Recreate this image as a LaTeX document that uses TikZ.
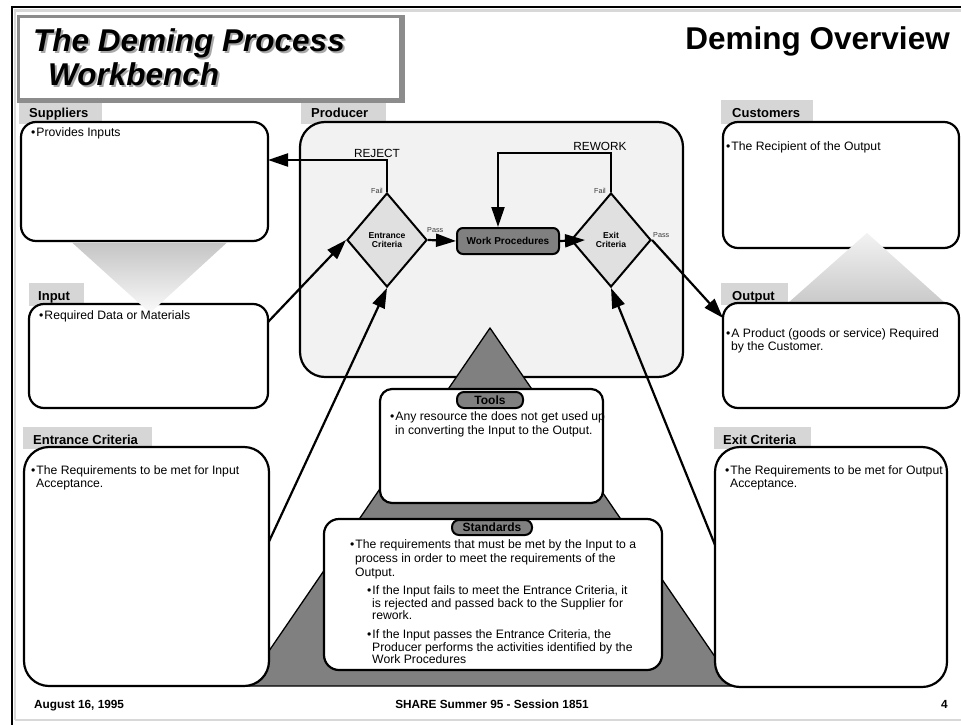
\documentclass[tikz,border=0pt]{standalone}
\usepackage{fontspec}
\setmainfont{Liberation Sans}
\usetikzlibrary{arrows.meta,shapes.geometric}

\definecolor{tabgray}{HTML}{D6D6D6}
\definecolor{prodgray}{HTML}{F2F2F2}
\definecolor{diagray}{HTML}{E0E0E0}
\definecolor{darkfill}{HTML}{808080}
\definecolor{framegray}{HTML}{8C8C8C}
\definecolor{rimgray}{HTML}{D8D8D8}
\definecolor{shadowgray}{HTML}{A8A8A8}
\definecolor{labelgray}{HTML}{383838}

\newcommand{\fsz}[1]{\fontsize{#1}{#1}\selectfont}
\newcommand{\bul}{\textbullet\hspace{1pt}}
% heading text with a soft grey drop shadow behind it
\newcommand{\shadowed}[1]{\makebox[0pt][l]{\hspace{2pt}\raisebox{-2pt}{\color{shadowgray}#1}}#1}

\begin{document}
\begin{tikzpicture}[x=1pt,y=-1pt,
  box/.style={draw=black, line width=2.2pt, fill=white, rounded corners=#1,
    inner sep=0pt, outer sep=0pt},
  box/.default=15pt,
  tab/.style={fill=tabgray},
  tablabel/.style={anchor=base west, inner sep=0pt, font=\fsz{13}\bfseries},
  txt/.style={anchor=base west, inner sep=0pt, font=\fsz{12.2}},
  pill/.style={draw=black, line width=2pt, fill=darkfill, rounded corners=7pt,
    inner sep=0pt, font=\fsz{12}\bfseries},
  crit/.style={diamond, draw=black, line width=2pt, fill=diagray, inner sep=0pt,
    minimum width=80pt, minimum height=94pt, align=center,
    font=\fontsize{8.6}{8.2}\selectfont\bfseries},
  small/.style={inner sep=0pt, font=\fsz{7.2}, text=labelgray},
  caption/.style={inner sep=0pt, font=\fsz{11.8}, anchor=base},
  flow/.style={line width=2.2pt, -{Triangle[length=20pt,width=13pt]}},
  foot/.style={inner sep=0pt, font=\fsz{11.8}\bfseries},
  heading/.style={anchor=base west, inner sep=0pt, font=\fsz{31.5}\bfseries\itshape}
]
\useasboundingbox (0,0) rectangle (961,725);
\fill[white] (0,0) rectangle (961,725);

% slide frame
\draw[rimgray, line width=2.5pt] (15,720) -- (15,10.5) -- (961,10.5);
\draw[rimgray, line width=2pt] (15,720) -- (961,720);
\draw[black, line width=2pt] (12,725) -- (12,7) -- (961,7);

% title panel
\fill[framegray] (17,15) rectangle (405,103);
\fill[white] (20,18) rectangle (399,98);
\node[heading] (ttla) at (33,52) {\shadowed{The Deming Process}};
\node[heading] (ttlb) at (48,85) {\shadowed{Workbench}};
\node[anchor=base east, inner sep=0pt, font=\fsz{31.5}\bfseries] (ovw) at (950,50) {Deming Overview};

% section tabs
\fill[tab] (19,103) rectangle (102,124);
\fill[tab] (301,103) rectangle (386,124);
\fill[tab] (29,283) rectangle (84,306);
\fill[tab] (23,427) rectangle (152,449);
\fill[tab] (721,100) rectangle (813,124);
\fill[tab] (721,283) rectangle (788,305);
\fill[tab] (714,427) rectangle (811,449);
\node[tablabel] (lsup) at (29,117) {Suppliers};
\node[tablabel] (lprod) at (311,117) {Producer};
\node[tablabel] (linp) at (38,300) {Input};
\node[tablabel] (lent) at (33,444) {Entrance Criteria};
\node[tablabel] (lcus) at (732,117) {Customers};
\node[tablabel] (lout) at (732,300) {Output};
\node[tablabel] (lexi) at (723,444) {Exit Criteria};

% producer area
\node[box=25pt, fill=prodgray, minimum width=383pt, minimum height=255pt] (prod) at (491.5,249.5) {};

% resource pyramid
\draw[fill=darkfill, line width=1.3pt, line join=round] (490,328) -- (245,686) -- (735,686) -- cycle;

% left column
\node[box, minimum width=247pt, minimum height=119pt] (sup) at (144.5,181.5) {};
\node[box, minimum width=239pt, minimum height=104pt] (inp) at (148.5,356) {};
\shade[top color=black!23, bottom color=black!2] (72,242.5) -- (227,242.5) -- (150,313) -- cycle;
\node[box=25pt, minimum width=245pt, minimum height=239pt] (ecb) at (146.5,566.5) {};

% right column
\node[box, minimum width=236pt, minimum height=126pt] (cus) at (841,185) {};
\shade[top color=black!5, bottom color=black!21] (867,233) -- (945,303) -- (788,303) -- cycle;
\node[box, minimum width=236pt, minimum height=105pt] (out) at (841,355.5) {};
\node[box=25pt, minimum width=232pt, minimum height=240pt] (xcb) at (831,567) {};

% tools and standards
\node[box=12pt, minimum width=223pt, minimum height=114pt] (tools) at (491.5,446) {};
\node[pill, minimum width=66pt, minimum height=16pt] (ptools) at (490,400) {Tools};
\node[box, minimum width=338pt, minimum height=151pt] (stds) at (493,594.5) {};
\node[pill, minimum width=80pt, minimum height=15pt] (pstds) at (492,527.5) {Standards};

% box texts
\node[txt] (tsup) at (31,136) {\bul Provides Inputs};
\node[txt] (tinp) at (39,319) {\bul Required Data or Materials};
\node[txt] (tenta) at (31,474) {\bul The Requirements to be met for Input};
\node[txt] (tentb) at (36,487) {Acceptance.};
\node[txt] (tcus) at (726,150) {\bul The Recipient of the Output};
\node[txt] (touta) at (726,337) {\bul A Product (goods or service) Required};
\node[txt] (toutb) at (731,350) {by the Customer.};
\node[txt] (texia) at (725,474) {\bul The Requirements to be met for Output};
\node[txt] (texib) at (730,487) {Acceptance.};
\node[txt] (ttoa) at (390,420) {\bul Any resource the does not get used up};
\node[txt] (ttob) at (395,434) {in converting the Input to the Output.};
\node[txt] (tsta) at (350,548) {\bul The requirements that must be met by the Input to a};
\node[txt] (tstb) at (355,562) {process in order to meet the requirements of the};
\node[txt] (tstc) at (355,576) {Output.};
\node[txt] (tstd) at (367,594) {\bul If the Input fails to meet the Entrance Criteria, it};
\node[txt] (tste) at (372,607) {is rejected and passed back to the Supplier for};
\node[txt] (tstf) at (372,619) {rework.};
\node[txt] (tstg) at (367,638) {\bul If the Input passes the Entrance Criteria, the};
\node[txt] (tsth) at (372,651) {Producer performs the activities identified by the};
\node[txt] (tsti) at (372,663) {Work Procedures};

% process flow
\node[crit] (ed) at (387,240) {Entrance\\Criteria};
\node[crit] (xd) at (611,240) {Exit\\Criteria};
\node[draw=black, line width=2pt, fill=darkfill, rounded corners=6pt, inner sep=0pt,
  minimum width=102pt, minimum height=26pt, font=\fsz{10}\bfseries] (wp) at (508,241) {Work Procedures};

\coordinate (rjc) at (387,160);
\coordinate (rw1) at (611,153);
\coordinate (rw2) at (498,153);

\draw[flow] (ed.north) -- (rjc) -- (sup.east |- rjc);
\draw[flow] (xd.north) -- (rw1) -- (rw2) -- (rw2 |- wp.north);
\draw[flow] (ed.east) -- (wp.west);
\draw[flow] (wp.east) -- ([xshift=15pt]xd.west);
\draw[flow] (xd.east) -- ([yshift=-15pt]out.north west);
\draw[flow] ([yshift=-18pt]inp.north east) -- (ed.west);
\draw[flow] ([yshift=25pt]ecb.east) -- (ed.south);
\draw[flow] ([yshift=22pt]xcb.west) -- (xd.south);

\node[caption] (rej) at (377,157) {REJECT};
\node[caption] (rwk) at (600,150) {REWORK};
\node[small, anchor=base east] (fa) at (383,193) {Fail};
\node[small, anchor=base east] (fb) at (606,193) {Fail};
\node[small, anchor=base west] (pa) at (427,232) {Pass};
\node[small, anchor=base west] (pb) at (653,237) {Pass};

% footer
\node[foot, anchor=base west] (date) at (34,708) {August 16, 1995};
\node[foot, anchor=base] (sess) at (492,708) {SHARE Summer 95 - Session 1851};
\node[foot, anchor=base east] (pg) at (948,708) {4};
\end{tikzpicture}
\end{document}
